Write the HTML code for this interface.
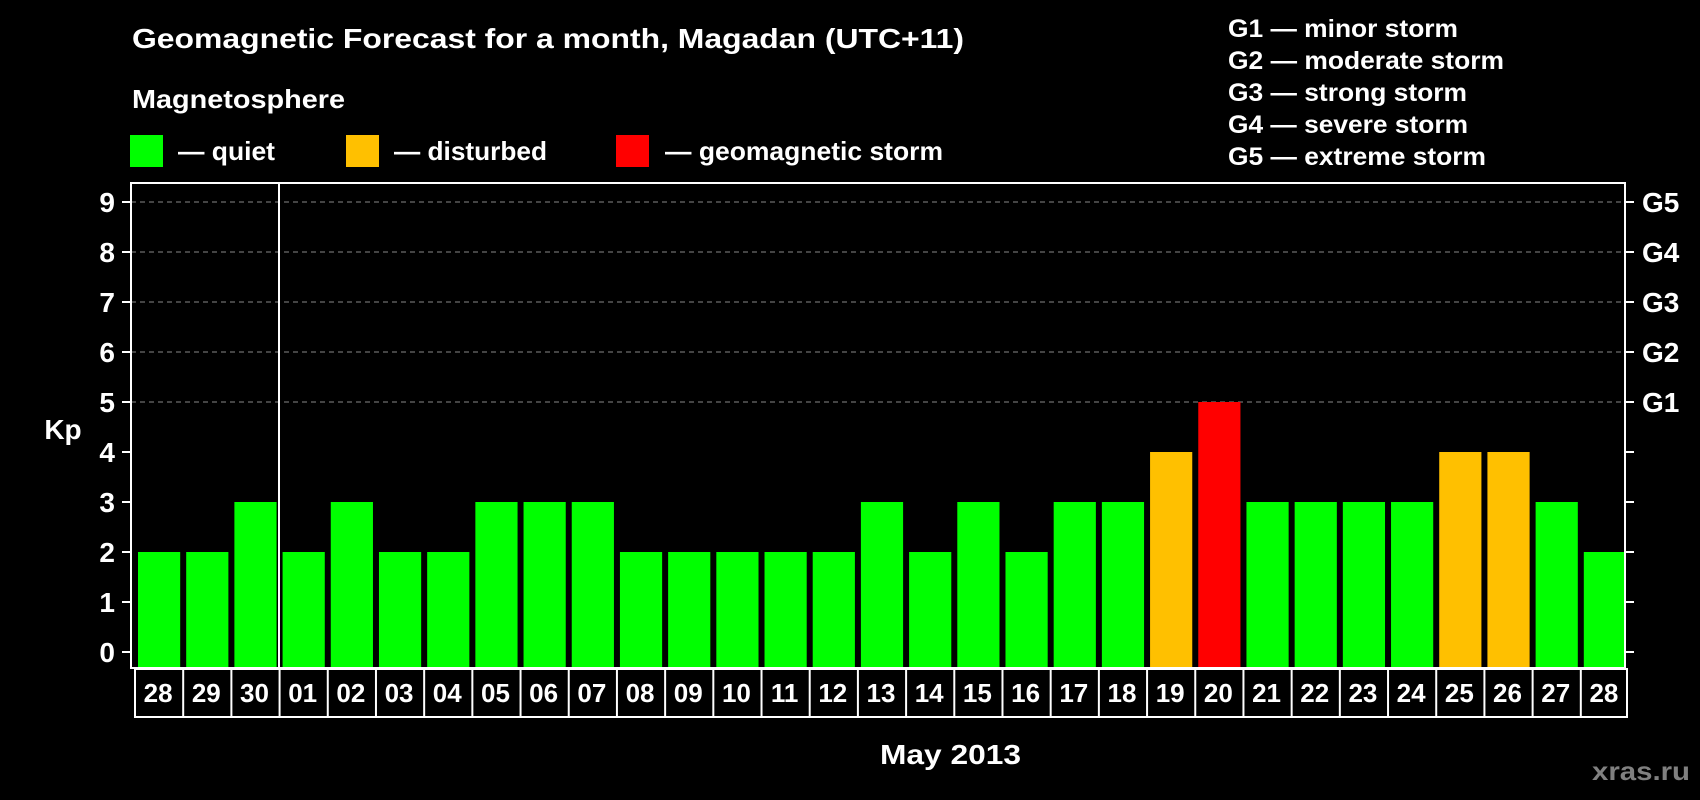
<!DOCTYPE html>
<html><head><meta charset="utf-8"><style>
html,body{margin:0;padding:0;background:#000;}
svg{display:block;font-family:"Liberation Sans",Arial,sans-serif;font-weight:bold;}
</style></head><body>
<svg id="chart" width="1700" height="800" viewBox="0 0 1700 800" xmlns="http://www.w3.org/2000/svg">
<rect width="1700" height="800" fill="#000"/>
<text x="132" y="48" fill="#fff" font-size="28" textLength="832" lengthAdjust="spacingAndGlyphs">Geomagnetic Forecast for a month, Magadan (UTC+11)</text>
<text x="132" y="108" fill="#fff" font-size="26" textLength="213" lengthAdjust="spacingAndGlyphs">Magnetosphere</text>
<g>
<rect x="130" y="135" width="33" height="32" fill="#00ff00"/>
<text x="178" y="160" fill="#fff" font-size="26" textLength="97" lengthAdjust="spacingAndGlyphs">— quiet</text></g>
<g>
<rect x="346" y="135" width="33" height="32" fill="#ffc000"/>
<text x="394" y="160" fill="#fff" font-size="26" textLength="153" lengthAdjust="spacingAndGlyphs">— disturbed</text></g>
<g>
<rect x="616" y="135" width="33" height="32" fill="#ff0000"/>
<text x="665" y="160" fill="#fff" font-size="26" textLength="278" lengthAdjust="spacingAndGlyphs">— geomagnetic storm</text></g>
<g fill="#fff" font-size="25">
<text x="1228" y="37" textLength="230" lengthAdjust="spacingAndGlyphs">G1 — minor storm</text>
<text x="1228" y="69" textLength="276" lengthAdjust="spacingAndGlyphs">G2 — moderate storm</text>
<text x="1228" y="101" textLength="239" lengthAdjust="spacingAndGlyphs">G3 — strong storm</text>
<text x="1228" y="133" textLength="240" lengthAdjust="spacingAndGlyphs">G4 — severe storm</text>
<text x="1228" y="165" textLength="258" lengthAdjust="spacingAndGlyphs">G5 — extreme storm</text>
</g>
<g id="grid"></g>
<g id="bars"></g>
<rect x="131" y="183" width="1494" height="485" fill="none" stroke="#fff" stroke-width="2"/>
<line x1="279" y1="183" x2="279" y2="668" stroke="#fff" stroke-width="2"/>
<g id="yaxis"></g>
<g id="xaxis"></g>
<text x="63" y="439" fill="#fff" font-size="28" text-anchor="middle">Kp</text>
<text x="880" y="764" fill="#fff" font-size="28" textLength="141" lengthAdjust="spacingAndGlyphs">May 2013</text>
<text x="1592" y="780" fill="#808080" font-size="26" textLength="98" lengthAdjust="spacingAndGlyphs">xras.ru</text>
</svg>
<script>
const days = ["28","29","30","01","02","03","04","05","06","07","08","09","10","11","12","13","14","15","16","17","18","19","20","21","22","23","24","25","26","27","28"];
const kpValues = [2,2,3,2,3,2,2,3,3,3,2,2,2,2,2,3,2,3,2,3,3,4,5,3,3,3,3,4,4,3,2];
const yTicks = [0,1,2,3,4,5,6,7,8,9];
const gLabels = ["G1","G2","G3","G4","G5"];
const gLevels = [5,6,7,8,9];

const NS = "http://www.w3.org/2000/svg";
const plotL = 131, plotR = 1625, plotB = 668;
const y0 = 652, unit = 50;
const step = (plotR - plotL) / days.length;
function yScale(v){ return y0 - v * unit; }
function xBand(i){ return plotL + 7 + i * step; }
function mk(tag, attrs, parent){ const e = document.createElementNS(NS, tag); for (const k in attrs) e.setAttribute(k, attrs[k]); parent.appendChild(e); return e; }
function color(v){ return v >= 5 ? "#ff0000" : (v >= 4 ? "#ffc000" : "#00ff00"); }

const grid = document.getElementById("grid");
gLevels.forEach(function(v){
  const l = mk("line", {x1: plotL, x2: plotR, y1: yScale(v), y2: yScale(v), stroke: "#888", "stroke-width": 1, "stroke-dasharray": "5,4"}, grid);
  
  
});

const bars = document.getElementById("bars");
kpValues.forEach(function(v, i){
  const r = mk("rect", {x: xBand(i), y: yScale(v), width: step - 6, height: plotB - yScale(v), fill: color(v)}, bars);
  
  
});

const ya = document.getElementById("yaxis");
yTicks.forEach(function(v){
  const y = yScale(v);
  const t1 = mk("line", {x1: 122, x2: plotL, y1: y, y2: y, stroke: "#fff", "stroke-width": 2}, ya);
  
  
  const t2 = mk("line", {x1: plotR, x2: plotR + 9, y1: y, y2: y, stroke: "#fff", "stroke-width": 2}, ya);
  
  
  const tx = mk("text", {x: 115, y: y + 10, fill: "#fff", "font-size": 28, "text-anchor": "end"}, ya);
  tx.textContent = String(v);
  
  
});
gLabels.forEach(function(g, i){
  const tx = mk("text", {x: 1642, y: yScale(gLevels[i]) + 10, fill: "#fff", "font-size": 28}, ya);
  tx.textContent = g;
  
  
});

const xa = document.getElementById("xaxis");
const boxL = plotL + 4, boxTop = 669, boxH = 48;
const outer = mk("rect", {x: boxL, y: boxTop, width: step * days.length - 2, height: boxH, fill: "none", stroke: "#fff", "stroke-width": 2}, xa);


days.forEach(function(d, i){
  const x = boxL + i * step;
  if (i > 0) {
    const l = mk("line", {x1: x, x2: x, y1: boxTop, y2: boxTop + boxH, stroke: "#fff", "stroke-width": 2}, xa);
    
    
  }
  const t = mk("text", {x: x + step / 2 - 1, y: 702, fill: "#fff", "font-size": 26, "text-anchor": "middle"}, xa);
  t.textContent = d;
  
  
});
</script>
</body></html>
